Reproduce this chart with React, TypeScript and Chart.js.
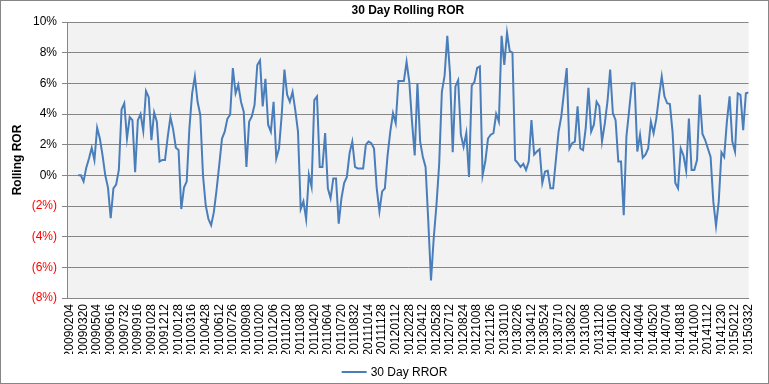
import { useEffect, useRef } from 'react';
import { Chart, registerables } from 'chart.js';

Chart.register(...registerables);

const tickLabels = [
  '20090204', '20090320', '20090504', '20090616', '20090732', '20090916', '20091028', '20091212',
  '20100128', '20100316', '20100428', '20100612', '20100726', '20100908', '20101020', '20101206',
  '20110120', '20110308', '20110420', '20110604', '20110720', '20110832', '20111014', '20111128',
  '20120112', '20120228', '20120412', '20120528', '20120712', '20120824', '20121008', '20121126',
  '20130110', '20130226', '20130412', '20130524', '20130710', '20130822', '20131008', '20131120',
  '20140106', '20140220', '20140404', '20140520', '20140704', '20140818', '20141000', '20141112',
  '20141230', '20150212', '20150332',
];

const pointsPerLabel = 5;
const seriesLabel = '30 Day RROR';
const chartTitle = '30 Day Rolling ROR';
const yAxisTitle = 'Rolling ROR';

// rolling rate of return, percent, sampled at 5 points per labelled date
const rollingRor: (number | null)[] = [
  null, null, null, 0.0, 0.0, -0.4, 0.5, 1.1, 1.8, 1.0,
  3.1, 2.4, 1.3, 0.0, -0.8, -2.8, -0.85, -0.6, 0.35, 4.3,
  4.7, 2.4, 3.8, 3.6, 0.2, 3.6, 4.0, 2.9, 5.5, 5.1,
  2.3, 4.1, 3.5, 0.9, 1.0, 1.0, 2.5, 3.8, 3.0, 1.8,
  1.65, -2.2, -0.8, -0.4, 3.1, 5.35, 6.45, 4.8, 3.95, 0.0,
  -1.95, -2.85, -3.25, -2.4, -0.95, 0.7, 2.4, 2.85, 3.7, 3.95,
  7.0, 5.35, 5.9, 4.8, 4.15, 0.55, 3.5, 3.85, 4.6, 7.2,
  7.5, 4.5, 6.3, 3.3, 2.85, 4.8, 1.1, 1.75, 3.95, 6.9,
  5.25, 4.8, 5.45, 4.25, 2.85, -2.2, -1.7, -2.85, 0.05, -0.75,
  4.9, 5.15, 0.55, 0.55, 2.75, -0.85, -1.5, -0.2, -0.2, -3.15,
  -1.5, -0.5, -0.1, 1.45, 2.2, 0.55, 0.45, 0.45, 0.45, 2.0,
  2.2, 2.1, 1.75, -0.85, -2.35, -1.05, -0.85, 1.3, 2.85, 4.05,
  3.4, 6.15, 6.15, 6.15, 7.4, 6.1, 3.5, 1.3, 6.0, 2.2,
  1.2, 0.55, -3.0, -6.85, -4.1, -1.95, 0.7, 5.45, 6.5, 9.1,
  6.65, 1.5, 5.8, 6.2, 2.65, 1.85, 2.75, -0.1, 5.85, 6.1,
  7.0, 7.1, 0.0, 0.9, 2.4, 2.65, 2.75, 4.0, 3.5, 9.1,
  7.2, 9.3, 8.1, 8.0, 1.0, 0.8, 0.55, 0.75, 0.35, 0.9,
  3.6, 1.35, 1.55, 1.7, -0.5, 0.25, 0.3, -0.85, -0.85, 1.0,
  2.85, 3.85, 5.45, 7.0, 1.75, 2.1, 2.2, 4.5, 1.75, 1.65,
  3.1, 5.7, 2.85, 3.3, 4.8, 4.5, 2.2, 3.35, 4.8, 6.9,
  4.05, 3.6, 0.9, 0.9, -2.6, 2.55, 4.25, 6.0, 6.0, 1.55,
  2.65, 1.15, 1.35, 1.75, 3.5, 2.75, 3.7, 5.15, 6.45, 5.15,
  4.7, 4.65, 2.8, -0.5, -0.85, 1.75, 1.3, 0.3, 3.7, 0.35,
  0.35, 1.0, 5.25, 2.7, 2.3, 1.75, 1.2, -1.7, -3.3, -1.7,
  1.5, 1.2, 3.5, 5.15, 2.2, 1.55, 5.35, 5.25, 2.95, 5.35,
  5.4,
];

const yTicks = { min: -8, max: 10, step: 2 };

const FONT = "'Liberation Sans', Arial, sans-serif";
const LINE_COLOR = '#4a7ebb';
const GRID_COLOR = '#868686';

const chromePlugin = {
  id: 'chrome',
  beforeDraw(chart: any) {
    const { ctx, chartArea } = chart;
    ctx.save();
    ctx.fillStyle = '#ffffff';
    ctx.fillRect(0, 0, chart.width, chart.height);
    ctx.fillStyle = '#f2f2f2';
    ctx.fillRect(chartArea.left, chartArea.top, chartArea.right - chartArea.left, chartArea.bottom - chartArea.top);
    ctx.restore();
  },
  afterDraw(chart: any) {
    const { ctx } = chart;
    ctx.save();
    ctx.strokeStyle = GRID_COLOR;
    ctx.lineWidth = 1;
    ctx.strokeRect(0.5, 0.5, chart.width - 1, chart.height - 1);

    // legend
    ctx.font = `12px ${FONT}`;
    const text = chart.data.datasets[0].label;
    const tw = ctx.measureText(text).width;
    const lineLen = 25;
    const gap = 4;
    const total = lineLen + gap + tw;
    const cx = chart.width / 2 + 10;
    const y = 372;
    const x0 = cx - total / 2;
    ctx.strokeStyle = LINE_COLOR;
    ctx.lineWidth = 2;
    ctx.beginPath();
    ctx.moveTo(x0, y);
    ctx.lineTo(x0 + lineLen, y);
    ctx.stroke();
    ctx.fillStyle = '#000';
    ctx.textBaseline = 'middle';
    ctx.textAlign = 'left';
    ctx.fillText(text, x0 + lineLen + gap, y + 1);
    ctx.restore();
  },
};

export default function App() {
  const canvasRef = useRef<HTMLCanvasElement | null>(null);

  useEffect(() => {
    if (!canvasRef.current) return;
    Chart.defaults.font.family = FONT;
    Chart.defaults.color = '#000';
    const points = rollingRor.map((v, i) => ({ x: i, y: v }));
    const chart = new Chart(canvasRef.current, {
      type: 'line',
      data: {
        datasets: [
          {
            label: seriesLabel,
            data: points as any,
            borderColor: LINE_COLOR,
            backgroundColor: LINE_COLOR,
            borderWidth: 2,
            pointRadius: 0,
            tension: 0,
            fill: false,
          },
        ],
      },
      options: {
        animation: false,
        responsive: false,
        devicePixelRatio: 1,
        layout: { padding: { left: 1, right: 17, top: 0, bottom: 30 } },
        plugins: {
          legend: { display: false },
          tooltip: { enabled: false },
          title: {
            display: true,
            text: chartTitle,
            fullSize: false,
            color: '#000',
            font: { size: 12, weight: 'bold' },
            padding: { top: 3, bottom: 4.6 },
          },
        },
        scales: {
          x: {
            type: 'linear',
            min: -1.1,
            max: (tickLabels.length - 1) * pointsPerLabel,
            afterBuildTicks: (s: any) => {
              s.ticks = tickLabels.map((_, k) => ({ value: k * pointsPerLabel }));
            },
            afterFit: (s: any) => {
              s.height = 56;
            },
            ticks: {
              autoSkip: false,
              minRotation: 90,
              maxRotation: 90,
              padding: 6,
              font: { size: 12 },
              color: '#000',
              callback: (v: any) => tickLabels[Math.round(Number(v) / pointsPerLabel)] ?? '',
            },
            grid: { display: false, drawTicks: false },
            border: { display: true, color: GRID_COLOR },
          },
          y: {
            min: yTicks.min,
            max: yTicks.max,
            afterFit: (s: any) => {
              s.width = 66;
            },
            ticks: {
              stepSize: yTicks.step,
              padding: 5,
              font: { size: 12 },
              color: (ctx: any) => (ctx.tick && ctx.tick.value < 0 ? '#ff0000' : '#000000'),
              callback: (v: any) => (Number(v) < 0 ? `(${-Number(v)}%)` : `${v}%`),
            },
            grid: { color: GRID_COLOR, tickLength: 5, lineWidth: 1 },
            border: { display: true, color: GRID_COLOR },
            title: {
              display: true,
              text: yAxisTitle,
              color: '#000',
              font: { size: 12, weight: 'bold' },
              padding: { top: 9, bottom: 0 },
            },
          },
        },
      },
      plugins: [chromePlugin],
    });
    return () => chart.destroy();
  }, []);

  return (
    <div style={{ position: 'absolute', left: 0, top: 0, width: 769, height: 384 }}>
      <canvas ref={canvasRef} width={769} height={384} style={{ display: 'block' }} />
    </div>
  );
}
